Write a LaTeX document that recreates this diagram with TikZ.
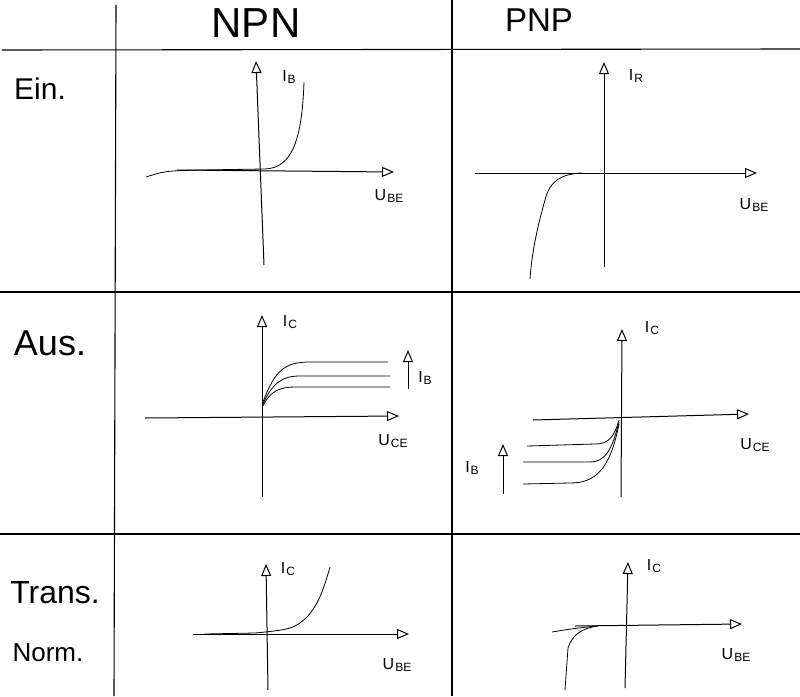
\documentclass[tikz,border=0pt]{standalone}
\usepackage{fontspec}
\setmainfont{Liberation Sans}
\usetikzlibrary{arrows.meta}
\newcommand{\qty}[2]{#1\kern1pt\raisebox{-2pt}{\fontsize{12}{12}\selectfont #2}}
\begin{document}
\begin{tikzpicture}[x=1pt,y=-1pt,
  gridline/.style={line width=1.1pt},
  axis/.style={line width=1pt,-{Triangle[open,length=12pt,width=10pt,line width=1pt]}},
  curve/.style={line width=0.8pt},
  lbl/.style={font=\fontsize{16}{16}\selectfont,inner sep=0pt},
  head/.style={inner sep=0pt,font=\fontsize{#1}{#1}\selectfont}]
\useasboundingbox (0,0) rectangle (800,696);
\fill[white] (0,0) rectangle (800,696);
% grid
\coordinate (v1t) at (116,5);   \coordinate (v1b) at (114,696);
\coordinate (v2t) at (452,0);   \coordinate (v2b) at (452,696);
\coordinate (h1l) at (2,50);    \coordinate (h1r) at (800,49);
\coordinate (h2l) at (0,292);   \coordinate (h2r) at (800,292);
\coordinate (h3l) at (0,534);   \coordinate (h3r) at (800,534);
\draw[gridline] (v1t) -- (v1b);
\draw[gridline] (v2t) -- (v2b);
\draw[gridline] (h1l) -- (h1r);
\draw[gridline] (h2l) -- (h2r);
\draw[gridline] (h3l) -- (h3r);
% headers
\node[head=42] (npn) at (256,23) {NPN};
\node[head=33] (pnp) at (539,20) {PNP};
\node[head=30] (ein) at (40,89) {Ein.};
\node[head=36] (aus) at (50,343) {Aus.};
\node[head=32] (trans) at (55,593) {Trans.};
\node[head=26] (norm) at (48,653) {Norm.};
% ---- panel 1: NPN input
\coordinate (p1yb) at (264,265); \coordinate (p1yt) at (256,61);
\coordinate (p1xl) at (177,170); \coordinate (p1xr) at (394,172);
\draw[axis] (p1yb) -- (p1yt);
\draw[axis] (p1xl) -- (p1xr);
\draw[curve] (146,177) .. controls (165,171) .. (200,170) -- (265,169)
  .. controls (292,168) and (302,140) .. (304,82);
\node[lbl] (p1ib) at (289,77) {\qty{I}{B}};
\node[lbl] (p1ube) at (389,196) {\qty{U}{BE}};
% ---- panel 2: PNP input
\coordinate (p2yb) at (604,267); \coordinate (p2yt) at (604,62);
\coordinate (p2xl) at (475,173); \coordinate (p2xr) at (757,173);
\draw[axis] (p2yb) -- (p2yt);
\draw[axis] (p2xl) -- (p2xr);
\draw[curve] (582,173) .. controls (562,174) and (550,180) .. (545,200)
  .. controls (538,225) and (532,250) .. (530,279);
\node[lbl] (p2ir) at (636,76) {\qty{I}{R}};
\node[lbl] (p2ube) at (754,205) {\qty{U}{BE}};
% ---- panel 3: NPN output
\coordinate (p3yb) at (262,497); \coordinate (p3yt) at (262,315);
\coordinate (p3xl) at (145,418); \coordinate (p3xr) at (399,416);
\draw[axis] (p3yb) -- (p3yt);
\draw[axis] (p3xl) -- (p3xr);
\draw[curve] (263,402) .. controls (275,370) and (285,362) .. (310,362) -- (388,362);
\draw[curve] (263,404) .. controls (273,382) and (283,376) .. (300,376) -- (390,376);
\draw[curve] (263,406) .. controls (270,391) and (280,387) .. (295,387) -- (390,387);
\coordinate (p3ibb) at (408,389); \coordinate (p3ibt) at (408,350);
\draw[axis] (p3ibb) -- (p3ibt);
\node[lbl] (p3ic) at (290,322) {\qty{I}{C}};
\node[lbl] (p3ib) at (425,378) {\qty{I}{B}};
\node[lbl] (p3uce) at (393,441) {\qty{U}{CE}};
% ---- panel 4: PNP output
\coordinate (p4yb) at (621,497); \coordinate (p4yt) at (622,329);
\coordinate (p4xl) at (533,420); \coordinate (p4xr) at (749,414);
\draw[axis] (p4yb) -- (p4yt);
\draw[axis] (p4xl) -- (p4xr);
\draw[curve] (619,420) .. controls (614,438) and (608,444) .. (595,444) -- (527,446);
\draw[curve] (619,422) .. controls (612,450) and (605,462) .. (590,462) -- (523,462);
\draw[curve] (619,424) .. controls (610,470) and (595,483) .. (570,483) -- (523,484);
\coordinate (p4ibb) at (503,494); \coordinate (p4ibt) at (503,444);
\draw[axis] (p4ibb) -- (p4ibt);
\node[lbl] (p4ic) at (652,328) {\qty{I}{C}};
\node[lbl] (p4ib) at (472,468) {\qty{I}{B}};
\node[lbl] (p4uce) at (755,445) {\qty{U}{CE}};
% ---- panel 5: NPN transfer
\coordinate (p5yb) at (268,690); \coordinate (p5yt) at (266,564);
\coordinate (p5xl) at (193,634); \coordinate (p5xr) at (409,634);
\draw[axis] (p5yb) -- (p5yt);
\draw[axis] (p5xl) -- (p5xr);
\draw[curve] (205,634) -- (255,633) .. controls (275,631) and (287,630) .. (295,626)
  .. controls (315,615) and (322,595) .. (330,567);
\node[lbl] (p5ic) at (288,569) {\qty{I}{C}};
\node[lbl] (p5ube) at (397,665) {\qty{U}{BE}};
% ---- panel 6: PNP transfer
\coordinate (p6yb) at (625,688); \coordinate (p6yt) at (628,562);
\coordinate (p6xl) at (575,626); \coordinate (p6xr) at (742,624);
\draw[axis] (p6yb) -- (p6yt);
\draw[axis] (p6xl) -- (p6xr);
\draw[curve] (552,632) .. controls (570,629) .. (596,626);
\draw[curve] (598,626) .. controls (582,628) and (572,635) .. (568,648) -- (565,690);
\node[lbl] (p6ic) at (654,566) {\qty{I}{C}};
\node[lbl] (p6ube) at (736,655) {\qty{U}{BE}};
\end{tikzpicture}
\end{document}
